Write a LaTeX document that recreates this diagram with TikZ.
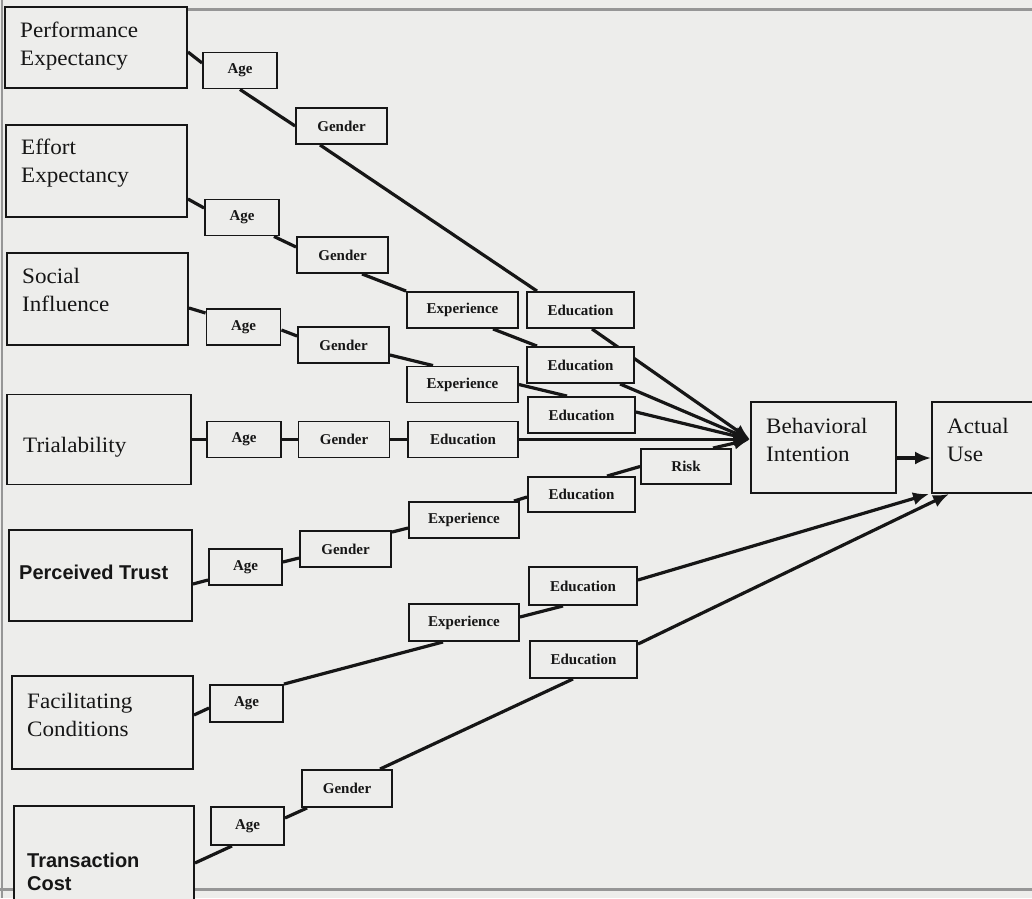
\documentclass[tikz,border=0pt]{standalone}
\usepackage{fontspec}
\setmainfont{Liberation Serif}
\newfontfamily\boxserif[FakeStretch=1.05]{Liberation Serif}
\newfontfamily\boxsans{Liberation Sans}
\usetikzlibrary{arrows.meta}
\pgfdeclarelayer{paper}
\pgfdeclarelayer{links}
\pgfsetlayers{paper,links,main}
\definecolor{paper}{RGB}{237,237,235}
\definecolor{ink}{RGB}{22,22,22}
\definecolor{edge}{RGB}{150,150,150}
\newcommand\lnstrut{\rule{0pt}{16pt}}
\begin{document}
\begin{tikzpicture}[x=1pt,y=-1pt,
  bigbox/.style={draw=ink, line width=1.9pt, fill=paper, inner sep=0pt},
  boxtext/.style={anchor=north west, inner sep=0pt, align=left, text=ink,
    font=\boxserif\fontsize{22pt}{28.5pt}\selectfont},
  boldtext/.style={anchor=north west, inner sep=0pt, align=left, text=ink,
    font=\boxsans\bfseries\fontsize{20pt}{23pt}\selectfont},
  smallbox/.style={draw=ink, line width=1.9pt, fill=paper, inner sep=0pt,
    minimum height=36pt, text=ink, font=\fontsize{15pt}{17pt}\bfseries\selectfont},
  agebox/.style={smallbox, minimum width=74pt},
  genderbox/.style={smallbox, minimum width=91pt},
  expbox/.style={smallbox, minimum width=111pt},
  edubox/.style={smallbox, minimum width=107pt},
  link/.style={draw=ink, line width=3.2pt},
  arr/.style={link, -{Latex[length=16pt,width=13pt]}}]
\useasboundingbox (0,0) rectangle (1032,898);
\clip (0,0) rectangle (1032,898);

% constructs
\node[bigbox, minimum width=182pt, minimum height=81pt] (pe) at (96,47.5) {};
\node[boxtext] (pe-text) at (20,21) {\lnstrut Performance\\Expectancy};
\node[bigbox, minimum width=181pt, minimum height=92pt] (ee) at (96.5,171) {};
\node[boxtext] (ee-text) at (21,138) {\lnstrut Effort\\Expectancy};
\node[bigbox, minimum width=181pt, minimum height=92pt] (si) at (97.5,299) {};
\node[boxtext] (si-text) at (22,267) {\lnstrut Social\\Influence};
\node[bigbox, minimum width=184pt, minimum height=90pt] (tr) at (99,439.5) {};
\node[boxtext] (tr-text) at (23,436) {\lnstrut Trialability};
\node[bigbox, minimum width=183pt, minimum height=91pt] (pt) at (100.5,575.5) {};
\node[boldtext] (pt-text) at (19,563) {\lnstrut Perceived Trust};
\node[bigbox, minimum width=181pt, minimum height=93pt] (fc) at (102.5,722.5) {};
\node[boxtext] (fc-text) at (27,692) {\lnstrut Facilitating\\Conditions};
\node[bigbox, minimum width=180pt, minimum height=104pt] (tc) at (104,858) {};
\node[boldtext] (tc-text) at (27,851) {\lnstrut Transaction\\Cost};

% outcomes
\node[bigbox, minimum width=145pt, minimum height=91pt] (bi) at (823.5,447.5) {};
\node[boxtext] (bi-text) at (766,417) {\lnstrut Behavioral\\Intention};
\node[bigbox, minimum width=108pt, minimum height=91pt] (au) at (986,447.5) {};
\node[boxtext] (au-text) at (947,417) {\lnstrut Actual\\Use};
\coordinate (bi-in) at ([yshift=8pt]bi.west);

% moderators
\node[agebox] (a1) at (240,70.5) {Age};
\node[genderbox] (g1) at (341.5,126) {Gender};
\node[agebox] (a2) at (242,217.5) {Age};
\node[genderbox] (g2) at (342.5,255) {Gender};
\node[agebox] (a3) at (243.5,327) {Age};
\node[genderbox] (g3) at (343.5,345) {Gender};
\node[expbox] (x1) at (462.5,310) {Experience};
\node[edubox] (e1) at (580.5,310) {Education};
\node[edubox] (e2) at (580.5,365) {Education};
\node[expbox] (x2) at (462.5,384.5) {Experience};
\node[edubox] (e3) at (581.5,415) {Education};
\node[agebox] (a4) at (244,439.5) {Age};
\node[genderbox] (g4) at (344,439.5) {Gender};
\node[smallbox, minimum width=110pt] (e4) at (463,439.5) {Education};
\node[smallbox, minimum width=90pt, minimum height=35pt] (risk) at (686,466.5) {Risk};
\node[edubox, minimum height=35pt] (e5) at (581.5,494.5) {Education};
\node[expbox, minimum width=110pt] (x3) at (464,520) {Experience};
\node[genderbox] (g5) at (345.5,549) {Gender};
\node[agebox, minimum width=73pt] (a5) at (245.5,567) {Age};
\node[edubox, minimum width=108pt, minimum height=38pt] (e6) at (583,586) {Education};
\node[expbox, minimum width=110pt, minimum height=37pt] (x4) at (464,622.5) {Experience};
\node[edubox, minimum height=37pt] (e7) at (583.5,659.5) {Education};
\node[agebox, minimum width=73pt, minimum height=37pt] (a6) at (246.5,703.5) {Age};
\node[genderbox, minimum width=90pt, minimum height=37pt] (g6) at (347,788.5) {Gender};
\node[agebox, minimum width=73pt, minimum height=38pt] (a7) at (247.5,826) {Age};

\begin{pgfonlayer}{paper}
  \fill[paper] (0,0) rectangle (1032,898);
  \draw[edge, line width=1.5pt] (2,0) -- (2,898);
  \draw[edge, line width=2.5pt] (187,9.5) -- (1032,9.5);
  \draw[edge, line width=3pt] (0,889) -- (1032,889);
\end{pgfonlayer}

\begin{pgfonlayer}{links}
  % performance expectancy
  \draw[link] ([yshift=-4.5pt]pe.east) -- ([yshift=7.5pt]a1.west);
  \draw[link] (a1.south) -- (g1.west);
  \draw[link] ([xshift=-21.5pt]g1.south) -- ([xshift=-43.5pt]e1.north);
  \draw[arr] ([xshift=11.5pt]e1.south) -- (bi-in);
  % effort expectancy
  \draw[link] ([yshift=-28pt]ee.east) -- ([yshift=9.5pt]a2.west);
  \draw[link] ([xshift=-6pt]a2.south east) -- ([yshift=8pt]g2.west);
  \draw[link] ([xshift=19.5pt]g2.south) -- (x1.north west);
  \draw[link] ([xshift=30.5pt]x1.south) -- ([xshift=-43.5pt]e2.north);
  \draw[arr] ([xshift=39.5pt]e2.south) -- (bi-in);
  % social influence
  \draw[link] ([yshift=-9pt]si.east) -- ([yshift=14pt]a3.west);
  \draw[link] ([yshift=-3pt]a3.east) -- ([yshift=9pt]g3.west);
  \draw[link] ([yshift=-10pt]g3.east) -- ([xshift=-29.5pt]x2.north);
  \draw[link] (x2.east) -- ([xshift=-14.5pt]e3.north);
  \draw[arr] ([yshift=3pt]e3.east) -- (bi-in);
  % trialability
  \draw[link] (tr.east) -- (a4.west);
  \draw[link] (a4.east) -- (g4.west);
  \draw[link] (g4.east) -- (e4.west);
  \draw[arr] (e4.east) -- (bi-in);
  % perceived trust
  \draw[link] ([yshift=-8.5pt]pt.east) -- ([yshift=-13pt]a5.west);
  \draw[link] ([yshift=5pt]a5.east) -- ([yshift=-9pt]g5.west);
  \draw[link] ([yshift=-2pt]g5.north east) -- ([yshift=-8pt]x3.west);
  \draw[link] ([xshift=-6pt]x3.north east) -- ([yshift=-2.5pt]e5.west);
  \draw[link] ([xshift=25.5pt]e5.north) -- (risk.west);
  \draw[arr] ([xshift=27pt]risk.north) -- (bi-in);
  % facilitating conditions
  \draw[link] ([yshift=7.5pt]fc.east) -- ([yshift=-4.5pt]a6.west);
  \draw[link] (a6.north east) -- ([xshift=-21pt]x4.south);
  \draw[link] ([yshift=5.5pt]x4.east) -- ([xshift=-20pt]e6.south);
  \draw[arr] ([yshift=6pt]e6.east) -- ([xshift=-2pt]au.south west);
  % transaction cost
  \draw[link] ([yshift=-5pt]tc.east) -- ([xshift=-15.5pt]a7.south);
  \draw[link] ([yshift=8pt]a7.east) -- ([xshift=6pt]g6.south west);
  \draw[link] ([xshift=33pt]g6.north) -- ([xshift=-10.5pt]e7.south);
  \draw[arr] ([yshift=-4pt]e7.north east) -- ([xshift=18pt]au.south west);
  % intention to use
  \draw[arr] ([yshift=-10.5pt]bi.east) -- ([yshift=-10.5pt]au.west);
\end{pgfonlayer}
\end{tikzpicture}
\end{document}
